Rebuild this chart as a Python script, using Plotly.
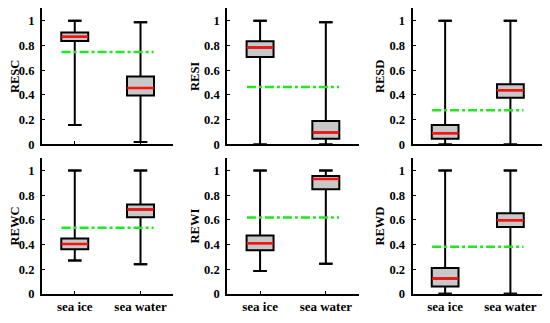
import plotly.graph_objects as go

categories = ["sea ice", "sea water"]
cat_pos = [1, 2]
panel_names = ["RESC", "RESI", "RESD", "REWC", "REWI", "REWD"]

# per panel: [sea ice, sea water]
lower = {
    "RESC": [0.157, 0.02], "RESI": [0.0, 0.0], "RESD": [0.0, 0.0],
    "REWC": [0.27, 0.24], "REWI": [0.185, 0.243], "REWD": [0.0, 0.0],
}
q1 = {
    "RESC": [0.836, 0.395], "RESI": [0.707, 0.046], "RESD": [0.046, 0.376],
    "REWC": [0.362, 0.621], "REWI": [0.354, 0.849], "REWD": [0.06, 0.542],
}
median = {
    "RESC": [0.87, 0.456], "RESI": [0.783, 0.097], "RESD": [0.091, 0.437],
    "REWC": [0.405, 0.685], "REWI": [0.41, 0.931], "REWD": [0.124, 0.598],
}
q3 = {
    "RESC": [0.905, 0.548], "RESI": [0.834, 0.189], "RESD": [0.157, 0.487],
    "REWC": [0.449, 0.725], "REWI": [0.473, 0.957], "REWD": [0.209, 0.653],
}
upper = {
    "RESC": [1.0, 0.987], "RESI": [1.0, 0.987], "RESD": [1.0, 1.0],
    "REWC": [1.0, 1.0], "REWI": [1.0, 1.0], "REWD": [1.0, 1.0],
}
threshold = {"RESC": 0.746, "RESI": 0.464, "RESD": 0.276,
             "REWC": 0.537, "REWI": 0.619, "REWD": 0.381}
threshold_x = [0.8, 2.2]
y_ticks = [0, 0.2, 0.4, 0.6, 0.8, 1]
y_ticktext = ["0", "0.2", "0.4", "0.6", "0.8", "1"]

# page is offset by the default 8px body margin
OFF = 8
W, H = 550 - OFF, 323 - OFF
x_domains_px = [(40, 172), (226, 358), (412, 543)]
y_domains_px = [(8.3, 147.5), (161.7, 300.3)]

FONT = "Liberation Serif"
fig = go.Figure()
layout = dict(width=W, height=H, margin=dict(l=0, r=0, t=0, b=0),
              paper_bgcolor="white", plot_bgcolor="white", showlegend=False,
              boxmode="overlay")

for i, name in enumerate(panel_names):
    k = i + 1
    row, col = divmod(i, 3)
    xs = "x" if k == 1 else f"x{k}"
    ys = "y" if k == 1 else f"y{k}"
    # green threshold line
    fig.add_trace(go.Scatter(x=threshold_x, y=[threshold[name]] * 2, mode="lines",
                             line=dict(color="#1ee81e", width=2.5, dash="dashdot"),
                             xaxis=xs, yaxis=ys, hoverinfo="skip"))
    # boxes
    fig.add_trace(go.Box(x=cat_pos, q1=q1[name], median=median[name], q3=q3[name],
                         lowerfence=lower[name], upperfence=upper[name],
                         width=0.41, fillcolor="#c8c8c8",
                         line=dict(color="black", width=2),
                         xaxis=xs, yaxis=ys))
    # whisker caps
    fig.add_trace(go.Scatter(x=cat_pos + cat_pos, y=upper[name] + lower[name],
                             mode="markers",
                             marker=dict(symbol="line-ew", size=9.5,
                                         line=dict(color="black", width=2)),
                             xaxis=xs, yaxis=ys, hoverinfo="skip"))
    # median lines
    fig.add_trace(go.Scatter(x=cat_pos, y=median[name], mode="markers",
                             marker=dict(symbol="line-ew", size=19,
                                         line=dict(color="#ff1010", width=2.5)),
                             xaxis=xs, yaxis=ys, hoverinfo="skip"))

    xd = x_domains_px[col]
    yd = y_domains_px[row]
    xkey = "xaxis" if k == 1 else f"xaxis{k}"
    ykey = "yaxis" if k == 1 else f"yaxis{k}"
    layout[xkey] = dict(domain=[(xd[0] - OFF) / W, (xd[1] - OFF) / W], anchor=ys,
                        range=[0.5, 2.5], tickvals=cat_pos,
                        ticktext=categories if row == 1 else ["", ""],
                        ticks="inside", ticklen=3, tickcolor="black",
                        showline=True, linecolor="black", linewidth=2,
                        showgrid=False, zeroline=False,
                        tickfont=dict(family=FONT, size=13, color="black", weight="bold"))
    layout[ykey] = dict(domain=[1 - (yd[1] - OFF) / H, 1 - (yd[0] - OFF) / H], anchor=xs,
                        range=[0, 1.1], tickvals=y_ticks, ticktext=y_ticktext,
                        ticks="inside", ticklen=3, tickcolor="black",
                        showline=True, linecolor="black", linewidth=2,
                        showgrid=False, zeroline=False, ticklabelstandoff=3,
                        tickfont=dict(family=FONT, size=12.5, color="black", weight="bold"),
                        title=dict(text=name, standoff=2,
                                   font=dict(family=FONT, size=12.5, color="black", weight="bold")))

fig.update_layout(**layout)
fig.write_html("out.html")
